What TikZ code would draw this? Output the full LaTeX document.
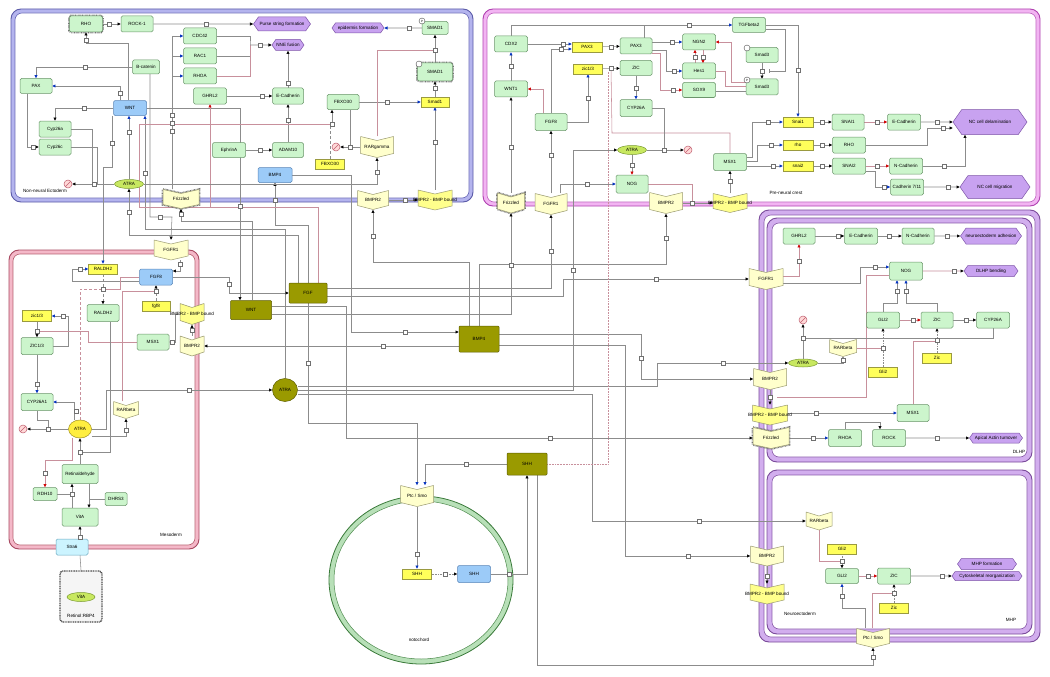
\documentclass[tikz,border=0pt]{standalone}
\usepackage{fontspec}
\setmainfont{Liberation Sans}
\usetikzlibrary{arrows.meta,shapes.geometric,shapes.symbols}
\definecolor{gfill}{HTML}{CCF5CC}
\definecolor{gdraw}{HTML}{6A956A}
\definecolor{yfill}{HTML}{FFFF5A}
\definecolor{ydraw}{HTML}{9A9A40}
\definecolor{bfill}{HTML}{9CCBF8}
\definecolor{bdraw}{HTML}{5A86B8}
\definecolor{ofill}{HTML}{9A9A00}
\definecolor{odraw}{HTML}{5E5E00}
\definecolor{hfill}{HTML}{C8A2F0}
\definecolor{hdraw}{HTML}{7E55A8}
\definecolor{cfill}{HTML}{FFFFCC}
\definecolor{cfilltwo}{HTML}{FFFF8C}
\definecolor{cdraw}{HTML}{9A9A70}
\definecolor{cyfill}{HTML}{CCF4FF}
\definecolor{cydraw}{HTML}{6AA8C0}
\definecolor{efill}{HTML}{C8E860}
\definecolor{edraw}{HTML}{7A9A30}
\definecolor{eyfill}{HTML}{FFEE40}
\definecolor{eydraw}{HTML}{A09020}
\definecolor{ln}{HTML}{8C8C8C}
\definecolor{pk}{HTML}{C8909C}
\definecolor{arrowblue}{HTML}{0030C0}
\definecolor{arrowred}{HTML}{D00000}
\definecolor{degf}{HTML}{FFD8D8}
\definecolor{degd}{HTML}{C06070}
\definecolor{eOut}{HTML}{5A5AA8}
\definecolor{eBand}{HTML}{B4B4EE}
\definecolor{eIn}{HTML}{6A6AB8}
\definecolor{pOut}{HTML}{B040B0}
\definecolor{pBand}{HTML}{F2B4F2}
\definecolor{pIn}{HTML}{C060C0}
\definecolor{mOut}{HTML}{A84860}
\definecolor{mBand}{HTML}{F4B8C8}
\definecolor{mIn}{HTML}{B86070}
\definecolor{nOut}{HTML}{7A4A9A}
\definecolor{nBand}{HTML}{D2AEEE}
\definecolor{nIn}{HTML}{8A5AAA}
\definecolor{notoOut}{HTML}{3A7A3A}
\definecolor{notoBand}{HTML}{B8E0B8}
\definecolor{notoIn}{HTML}{4A8A4A}
\pgfdeclarelayer{back}
\pgfdeclarelayer{edges}
\pgfsetlayers{back,edges,main}
\newcommand\tx[1]{\makebox[0pt]{#1}}
\newcommand\psq[2]{\filldraw[fill=white,draw=ln!80!black,line width=0.45pt] (#1-1.9,#2-1.9) rectangle (#1+1.9,#2+1.9);}
\newcommand\chev[7]{%
 \filldraw[fill=#6,draw=cdraw,line width=0.5pt,line join=round] (#2-#4/2,#3-#5/2) -- ++(#4/2,4) -- ++(#4/2,-4) -- ++(0,#5-4) -- ++(-#4/2,4) -- ++(-#4/2,-4) -- cycle;
 \node[base,minimum width=#4,minimum height=#5] (#1) at (#2,#3) {\tx{#7}};}
\newcommand\chevd[7]{%
 \filldraw[fill=#6,draw=cdraw,line width=0.5pt,line join=round,preaction={draw=black!55,line width=2.6pt,dash pattern=on 0.7pt off 0.7pt}] (#2-#4/2,#3-#5/2) -- ++(#4/2,4) -- ++(#4/2,-4) -- ++(0,#5-4) -- ++(-#4/2,4) -- ++(-#4/2,-4) -- cycle;
 \node[base,minimum width=#4,minimum height=#5] (#1) at (#2,#3) {\tx{#7}};}
\newcommand\compbox[8]{%
 \filldraw[draw=#5,fill=#6,line width=0.9pt,rounded corners=10pt] (#1,#2) rectangle (#3,#4);
 \filldraw[draw=#7,fill=white,line width=0.6pt,rounded corners=7pt] (#1+#8,#2+#8) rectangle (#3-#8,#4-#8);}
\tikzset{
 base/.style={font=\fontsize{4.6}{5.5}\selectfont, inner sep=0pt, line width=0.5pt},
 box/.style 2 args={base, rectangle, rounded corners=1.5pt, draw=gdraw, fill=gfill, minimum width=#1, minimum height=#2},
 ybox/.style 2 args={base, rectangle, draw=ydraw, fill=yfill, minimum width=#1, minimum height=#2},
 bbox/.style 2 args={base, rectangle, rounded corners=1.5pt, draw=bdraw, fill=bfill, minimum width=#1, minimum height=#2},
 obox/.style 2 args={base, rectangle, rounded corners=1pt, draw=odraw, fill=ofill, minimum width=#1, minimum height=#2},
 cybox/.style 2 args={base, rectangle, rounded corners=1.5pt, draw=cydraw, fill=cyfill, minimum width=#1, minimum height=#2},
 hex/.style 2 args={base, signal, signal to=west and east, signal pointer angle=110, draw=hdraw, fill=hfill, minimum width=#1, minimum height=#2},
 ell/.style 2 args={base, ellipse, draw=edraw, fill=efill, minimum width=#1, minimum height=#2},
 ellY/.style 2 args={base, ellipse, draw=eydraw, fill=eyfill, minimum width=#1, minimum height=#2},
 ellO/.style 2 args={base, ellipse, draw=odraw, fill=ofill, minimum width=#1, minimum height=#2},
 dotb/.style={preaction={draw=black!55, line width=2.6pt, dash pattern=on 0.7pt off 0.7pt}},
 degr/.style={circle, draw=degd, fill=degf, minimum size=8pt, inner sep=0pt, line width=0.5pt,
   path picture={\draw[degd,line width=0.5pt] (path picture bounding box.south west) -- (path picture bounding box.north east);}},
 pcirc/.style={circle, draw=black!70, fill=white, minimum size=6pt, inner sep=0pt, line width=0.4pt, font=\fontsize{3}{3}\selectfont},
 clab/.style={font=\fontsize{4.6}{5.5}\selectfont, inner sep=0pt},
 cn/.style={draw=ln, line width=0.55pt},
 pcn/.style={draw=pk, line width=0.55pt},
 ak/.style={-{Triangle[length=3.2pt,width=3pt,color=black]}},
 abl/.style={-{Triangle[length=3.2pt,width=3pt,color=arrowblue]}},
 ar/.style={-{Triangle[length=3.2pt,width=3pt,color=arrowred]}},
}
\begin{document}
\begin{tikzpicture}[x=1pt,y=-1pt]
\useasboundingbox (0,0) rectangle (1050,677);
\begin{pgfonlayer}{back}
\fill[white] (0,0) rectangle (1050,677);
\compbox{11}{9}{473}{202}{eOut}{eBand}{eIn}{4}
\compbox{483}{9}{1040}{206}{pOut}{pBand}{pIn}{4}
\compbox{9}{250}{199}{549}{mOut}{mBand}{mIn}{4}
\compbox{759}{210}{1040}{642}{nOut}{nBand}{nIn}{5}
\compbox{767}{218}{1032}{462}{nOut}{nBand}{nIn}{5}
\compbox{767}{470}{1032}{634}{nOut}{nBand}{nIn}{5}
\filldraw[draw=notoOut,fill=notoBand,line width=0.8pt] (421,580) ellipse [x radius=92,y radius=84];
\filldraw[draw=notoIn,fill=white,line width=0.5pt] (421,580) ellipse [x radius=87,y radius=79];
\end{pgfonlayer}
% ---------- compartment labels
\node[clab] (lE) at (45,191) {Non-neural Ectoderm};
\node[clab] (lP) at (786,193) {Pre-neural crest};
\node[clab] (lM) at (171,535) {Mesoderm};
\node[clab] (lN) at (800,614) {Neuroectoderm};
\node[clab] (lMHP) at (1011,620) {MHP};
\node[clab] (lDLHP) at (1019,452) {DLHP};
\node[clab] (lnoto) at (419,640) {notochord};
% ---------- ectoderm nodes
\node[box={33}{16},dotb] (rho1) at (86,24) {\tx{RHO}};
\node[box={32}{16}] (rock1) at (137,24) {\tx{ROCK-1}};
\node[hex={57}{14}] (purse) at (282,24) {\tx{Purse string formation}};
\node[box={33}{16}] (cdc42) at (200,36) {\tx{CDC42}};
\node[box={33}{16}] (rac1) at (200,56) {\tx{RAC1}};
\node[box={33}{16}] (rhoa) at (200,76) {\tx{RHOA}};
\node[hex={32}{11}] (nnefus) at (288,45) {\tx{NNE fusion}};
\node[box={27}{14}] (bcat) at (146,67) {\tx{B-catenin}};
\node[box={32}{15}] (pax) at (36,86) {\tx{PAX}};
\node[bbox={33}{15}] (wnt) at (130,108) {\tx{WNT}};
\node[box={33}{16}] (ghrl2) at (210,96) {\tx{GHRL2}};
\node[box={31}{16}] (ecad) at (288,96) {\tx{E-Cadherin}};
\node[box={32}{16}] (cyp26a) at (55,129) {\tx{Cyp26a}};
\node[box={32}{16}] (cyp26c) at (55,147) {\tx{Cyp26c}};
\node[box={33}{15}] (ephA) at (229,150) {\tx{EphrinA}};
\node[box={31}{15}] (adam10) at (288,150) {\tx{ADAM10}};
\node[ell={29}{9}] (atraE) at (129,184) {\tx{ATRA}};
\node[degr] (degE) at (68,184) {};
\chevd{frzE}{181}{199}{36}{19}{cfill}{Frizzled}
\node[bbox={34}{15}] (bmp4E) at (275,175) {\tx{BMP4}};
\node[hex={52}{10}] (epid) at (358,28) {\tx{epidermis formation}};
\node[box={26}{13}] (smad1p) at (435,28) {\tx{SMAD1}};
\node[box={35}{18},dotb] (smad1) at (435,72) {\tx{SMAD1}};
\node[ybox={28}{10}] (smad1g) at (435,102) {\tx{Smad1}};
\node[box={32}{15}] (fbxo30) at (343,102) {\tx{FBXO30}};
\node[degr] (degF) at (336,147) {};
\chev{rarg}{377}{147}{33}{21}{cfill}{RARgamma}
\node[ybox={29}{10}] (fbxo30g) at (330,164) {\tx{FBXO30}};
\chev{bmpr2E}{373}{200}{31}{19}{cfill}{BMPR2}
\chev{bmpbE}{435}{200}{34}{20}{cfilltwo}{BMPR2 - BMP bound}
\node[pcirc] (ph1) at (422,21) {P};
\node[pcirc] (ph2) at (419,64) {};
% ---------- pre-neural crest nodes
\chevd{frzP}{511}{203}{27}{20}{cfill}{Frizzled}
\node[box={33}{16}] (cdx2) at (511,44) {\tx{CDX2}};
\node[box={33}{16}] (wnt1) at (511,89) {\tx{WNT1}};
\node[ybox={30}{10}] (pax3g) at (587,47) {\tx{PAX3}};
\node[box={32}{16}] (pax3) at (636,46) {\tx{PAX3}};
\node[ybox={29}{10}] (zic13g) at (588,69) {\tx{zic1/3}};
\node[box={32}{15}] (zicP) at (636,68) {\tx{ZIC}};
\node[box={33}{16}] (ngn2) at (699,42) {\tx{NGN2}};
\node[box={33}{16}] (hes1) at (699,71) {\tx{Hes1}};
\node[box={33}{15}] (sox9) at (699,90) {\tx{SOX9}};
\node[box={33}{15}] (tgfb2) at (749,25) {\tx{TGFbeta2}};
\node[box={32}{15}] (smad3) at (762,55) {\tx{Smad3}};
\node[box={32}{16}] (smad3p) at (762,87) {\tx{Smad3}};
\node[pcirc] (ph3) at (747,48) {};
\node[pcirc] (ph4) at (747,80) {P};
\node[box={32}{17}] (fgf8P) at (551,122) {\tx{FGF8}};
\node[box={32}{17}] (cyp26aP) at (636,108) {\tx{CYP26A}};
\node[ell={29}{9}] (atraP) at (632,150) {\tx{ATRA}};
\node[degr] (degP) at (688,150) {};
\node[box={32}{18}] (nogP) at (632,184) {\tx{NOG}};
\node[box={33}{17}] (msx1P) at (730,162) {\tx{MSX1}};
\chev{fgfr1P}{551}{204}{32}{21}{cfill}{FGFR1}
\chev{bmpr2P}{666}{203}{33}{21}{cfill}{BMPR2}
\chev{bmpbP}{730}{203}{34}{19}{cfilltwo}{BMPR2 - BMP bound}
\node[ybox={30}{10}] (snai1g) at (798,122) {\tx{Snai1}};
\node[box={32}{16}] (snai1) at (848,122) {\tx{SNAI1}};
\node[box={33}{16}] (ecadP) at (904,122) {\tx{E-Cadherin}};
\node[hex={74}{25}] (ncdel) at (990,122) {\tx{NC cell delamination}};
\node[ybox={30}{10}] (rhog) at (798,145) {\tx{rho}};
\node[box={33}{16}] (rhoP) at (849,145) {\tx{RHO}};
\node[ybox={30}{10}] (snai2g) at (798,166) {\tx{snai2}};
\node[box={33}{16}] (snai2) at (849,166) {\tx{SNAI2}};
\node[box={33}{16}] (ncadP) at (906,166) {\tx{N-Cadherin}};
\node[box={33}{16}] (cad711) at (907,187) {\tx{Cadherin 7/11}};
\node[hex={70}{23}] (ncmig) at (995,187) {\tx{NC cell migration}};
% ---------- mesoderm nodes
\chev{fgfr1M}{171}{250}{34}{20}{cfill}{FGFR1}
\node[ybox={29}{10}] (raldh2g) at (103,269) {\tx{RALDH2}};
\node[bbox={33}{16}] (fgf8M) at (156,277) {\tx{FGF8}};
\node[box={32}{17}] (raldh2) at (103,313) {\tx{RALDH2}};
\node[ybox={29}{11}] (zic13gM) at (37,316) {\tx{zic1/3}};
\node[ybox={28}{10}] (fgf8g) at (156,306) {\tx{fgf8}};
\chev{bmpbM}{192}{314}{24}{21}{cfilltwo}{BMPR2 - BMP bound}
\node[box={32}{17}] (zic13) at (37,346) {\tx{ZIC1/3}};
\node[box={32}{16}] (msx1M) at (153,342) {\tx{MSX1}};
\chev{bmpr2M}{192}{346}{24}{20}{cfill}{BMPR2}
\node[box={32}{17}] (cyp26a1) at (37,402) {\tx{CYP26A1}};
\chev{rarbM}{126}{410}{25}{17}{cfill}{RARbeta}
\node[ellY={23}{18}] (atraM) at (80,429) {\tx{ATRA}};
\node[degr] (degM) at (23,429) {};
\node[box={36}{19}] (retin) at (80,474) {\tx{Retinaldehyde}};
\node[box={24}{13}] (rdh10) at (45,494) {\tx{RDH10}};
\node[box={22}{13}] (dhrs3) at (116,499) {\tx{DHRS3}};
\node[box={36}{18}] (vita) at (80,517) {\tx{VitA}};
\node[cybox={32}{16}] (stra6) at (72,547) {\tx{Stra6}};
\node[base,rectangle,rounded corners=3pt,draw=black!70,fill=black!4,line width=1.4pt,dash pattern=on 1pt off 0.7pt,minimum width=42,minimum height=51] (rbp4) at (81,596.5) {};
\node[ell={28}{9}] (vitaC) at (81,597) {\tx{VitA}};
\node[clab] (rbpl) at (81,616) {Retinol:RBP4};
% ---------- olive hub nodes
\node[obox={41}{19}] (wntO) at (251,310) {\tx{WNT}};
\node[obox={38}{20}] (fgfO) at (308,293) {\tx{FGF}};
\node[obox={40}{26}] (bmp4O) at (479,339) {\tx{BMP4}};
\node[ellO={25}{23}] (atraO) at (285,390) {\tx{ATRA}};
\node[obox={40}{22}] (shhO) at (527,464) {\tx{SHH}};
% ---------- notochord
\chev{ptcN}{417}{496}{33}{21}{cfill}{Ptc / Smo}
\node[ybox={29}{10}] (shhg) at (417,574) {\tx{SHH}};
\node[bbox={33}{17}] (shhb) at (474,574) {\tx{SHH}};
% ---------- DLHP
\chev{fgfr1D}{766}{279}{34}{21}{cfill}{FGFR1}
\chev{bmpr2D}{770}{379}{33}{21}{cfill}{BMPR2}
\chev{bmpbD}{770}{415}{35}{20}{cfilltwo}{BMPR2 - BMP bound}
\chevd{frzD}{771}{438}{36}{21}{cfill}{Frizzled}
\node[box={32}{16}] (ghrl2D) at (799,236) {\tx{GHRL2}};
\node[box={33}{16}] (ecadD) at (861,236) {\tx{E-Cadherin}};
\node[box={32}{16}] (ncadD) at (918,236) {\tx{N-Cadherin}};
\node[hex={61}{16}] (nadh) at (991,236) {\tx{neuroectoderm adhesion}};
\node[box={33}{18}] (nogD) at (906,271) {\tx{NOG}};
\node[hex={54}{11}] (dlhpb) at (991,271) {\tx{DLHP bending}};
\node[box={33}{16}] (gli2D) at (883,320) {\tx{GLI2}};
\node[box={32}{16}] (zicD) at (937,320) {\tx{ZIC}};
\node[box={33}{16}] (cyp26aD) at (993,320) {\tx{CYP26A}};
\node[degr] (degD) at (803,320) {};
\chev{rarbD}{843}{348}{27}{17}{cfill}{RARbeta}
\node[ell={29}{8}] (atraD) at (803,363) {\tx{ATRA}};
\node[ybox={29}{10}] (zicgD) at (937,358) {\tx{Zic}};
\node[ybox={29}{10}] (gli2gD) at (883,372) {\tx{Gli2}};
\node[box={32}{17}] (msx1D) at (913,413) {\tx{MSX1}};
\node[box={33}{17}] (rhoaD) at (845,438) {\tx{RHOA}};
\node[box={33}{17}] (rockD) at (889,438) {\tx{ROCK}};
\node[hex={53}{10}] (apical) at (996,438) {\tx{Apical Actin turnover}};
% ---------- MHP
\chev{bmpr2N}{767}{556}{33}{20}{cfill}{BMPR2}
\chev{bmpbN}{767}{594}{34}{20}{cfilltwo}{BMPR2 - BMP bound}
\chev{rarbN}{819}{521}{26}{18}{cfill}{RARbeta}
\node[ybox={29}{10}] (gli2gN) at (842,549) {\tx{Gli2}};
\node[box={33}{15}] (gli2N) at (842,576) {\tx{GLI2}};
\node[box={33}{16}] (zicN) at (894,576) {\tx{ZIC}};
\node[ybox={29}{10}] (zicgN) at (894,608) {\tx{Zic}};
\node[hex={59}{11}] (mhpf) at (987,564) {\tx{MHP formation}};
\node[hex={70}{9}] (cytor) at (987,576) {\tx{Cytoskeletal reorganization}};
\chev{ptcN2}{873}{638}{33}{19}{cfill}{Ptc / Smo}
% ================= connectors
\begin{pgfonlayer}{edges}
\coordinate (j1) at (250,45);
\coordinate (jf) at (332,124);
\coordinate (sj) at (769,71);
\coordinate (zj) at (611,68);
% ectoderm
\draw[cn,ak] (rho1) -- (rock1);
\draw[cn,ak] (rock1) -- (purse);
\draw[cn] (cdc42.east) -| (j1) |- (rac1.east);
\draw[pcn] (rhoa.east) -| (j1);
\draw[cn,ak] (j1) -- (nnefus);
\draw[cn,abl] (172,0 |- frzE.north) |- (cdc42.west);
\draw[cn,abl] (172,0 |- frzE.north) |- (rac1.west);
\draw[cn,abl] (172,0 |- frzE.north) |- (rhoa.west);
\draw[cn,ak] (128,0 |- wnt.north) |- (86,43) -- (rho1.south);
\draw[cn,abl] (bcat.west) -| (pax.north);
\draw[cn,abl] (120,0 |- wnt.north) |- (pax.east);
\draw[cn,ak] (wnt.west) -| (cyp26a.north);
\draw[cn,ak] (27,0 |- pax.south) |- (cyp26c.west);
\draw[cn] (cyp26a.east) -| (92,184);
\draw[cn] (cyp26c.east) -| (97,184);
\draw[cn,ak] (atraE) -- (degE);
\draw[cn,abl] (atraE) -- (129,0 |- wnt.south);
\draw[cn,abl] (112,0 |- wnt.south) -- (112,167) -| (raldh2g.north);
\draw[cn,ak] (wnt.east) -| (240,0 |- wntO.north);
\draw[cn,abl] (atraO.north) |- (145,229) -- (145,0 |- wnt.south);
\draw[cn,ak] (298,0 |- fgfO.north) |- (129,235) -- (atraE.south);
\draw[cn,ak] (308,0 |- fgfO.north) |- (275,225) -- (bmp4E.south);
\draw[cn,ak] (150,0 |- bcat.south) |- (172,217) -- (fgfr1M.north);
\draw[cn,ak] (252,0 |- wntO.north) |- (181,221) -- (frzE.south);
\draw[cn,ak] (ghrl2) -- (ecad);
\draw[cn,ak] (ecad) -- (nnefus);
\draw[cn,ak] (adam10) -- (ecad);
\draw[cn,ak] (ephA) -- (adam10);
\draw[pcn] (318,0 |- fgfO.north) |- (139,207) |- (jf);
\draw[pcn,ar] (210,207) -- (ghrl2.south);
\draw[cn,densely dashed] (fbxo30g.north) -- (330,124) -- (jf);
\draw[cn,ak] (jf) -- (332,0 |- fbxo30.south);
\draw[cn,abl] (fbxo30) -- (smad1g);
\draw[cn] (350,0 |- fbxo30.south) -- (350,147);
\draw[cn,ak] (rarg.west) -- (degF);
\draw[cn,ak] (atraE.east) -| (rarg.south);
\draw[pcn] (rarg.north) |- (435,50);
\draw[cn,ak] (bmpr2E) -- (bmpbE);
\draw[cn,abl] (bmpbE) -- (smad1g);
\draw[cn,ak] (smad1g) -- (smad1);
\draw[cn,ak] (smad1) -- (smad1p);
\draw[cn,abl] (smad1p) -- (epid);
\draw[cn,ak] (bmp4E.east) -| (351,332) -- (bmp4O.west |- 351,332);
\draw[cn,ak] (469,0 |- bmp4O.north) |- (373,262) -- (bmpr2E.south);
% pre-neural crest
\draw[cn,ak] (frzP) -- (wnt1);
\draw[cn,abl] (wnt1) -- (cdx2);
\draw[cn,abl] (cdx2.north) |- (tgfb2.west);
\draw[cn] (644,0 |- pax3.north) -- (644,25);
\draw[cn,abl] (cdx2.east) -- (pax3g.west |- cdx2.east);
\draw[cn,abl] (551,0 |- fgf8P.north) |- (pax3g.west |- 0,49);
\draw[cn,ak] (pax3g) -- (pax3);
\draw[cn,ak] (zic13g) -- (zicP);
\draw[cn,abl] (fgf8P.east) -| (zic13g.south);
\draw[pcn,ar] (543,0 |- fgf8P.north) |- (wnt1.east);
\draw[cn,abl] (pax3.east |- ngn2.west) -- (ngn2.west);
\draw[cn,abl] (pax3.east |- 0,50) -- (666,50) |- (hes1.west);
\draw[pcn,ar] (pax3.east |- 0,53) -- (660,53) |- (sox9.west);
\draw[pcn,ar] (hes1.north) ++(-4,0) -- ++(0,-13);
\draw[pcn,ar] (ngn2.south) ++(4,0) -- ++(0,13);
\draw[cn,ak] (smad3) -- (smad3p);
\draw[cn,-{Bar[width=4pt]}] (tgfb2.east |- 0,29) -- (785,29) |- (sj);
\draw[cn,abl] (tgfb2.east) -| (snai1g.north);
\draw[pcn,ar] (smad3p.west |- 0,82) -- (731,82) |- (ngn2.east);
\draw[pcn] (smad3p.west |- 0,86) -- (725,86) |- (hes1.east);
\draw[cn] (smad3p.west |- 0,91) -- (sox9.east |- 0,91);
\draw[cn,abl] (msx1P.east |- 0,157) -- (752,157) |- (snai1g.west);
\draw[cn,abl] (msx1P.east |- 0,161) -- (757,161) |- (rhog.west);
\draw[cn,abl] (msx1P.east |- 0,166) -- (snai2g.west);
\draw[cn,ak] (snai1g) -- (snai1);
\draw[cn,ak] (rhog) -- (rhoP);
\draw[cn,ak] (snai2g) -- (snai2);
\draw[pcn,ar] (snai1) -- (ecadP);
\draw[cn,ak] (ecadP) -- (ncdel);
\draw[cn,ak] (rhoP.east) -| (927,128) -- (ncdel.west |- 0,128);
\draw[pcn,ar] (snai2) -- (ncadP);
\draw[cn,abl] (snai2.east |- 0,171) -- (875,171) |- (cad711.west);
\draw[cn,ak] (ncadP.east) -| (965,0 |- ncdel.south);
\draw[cn,ak] (cad711) -- (ncmig);
\draw[pcn] (msx1P.north) |- (612,133) -- (zj);
\draw[cn,ak] (bmpbP) -- (msx1P);
\draw[cn,ak] (bmpr2P) -- (bmpbP);
\draw[pcn] (nogP.east) -| (692,203);
\draw[cn,ak] (fgfr1P) -- (fgf8P);
\draw[cn,abl] (560,0 |- fgfr1P.north) |- (nogP.west);
\draw[cn,ar] (atraP) -- (nogP);
\draw[cn,abl] (zicP) -- (cyp26aP);
\draw[cn] (cyp26aP.east) -| (664,150);
\draw[cn,ak] (atraP) -- (degP);
% hub
\draw[cn,ak] (atraO.east) -| (573,150) -- (atraP.west);
\draw[cn,ak] (atraO.east |- 0,386) -| (657,363) -- (atraD.west);
\draw[cn,ak] (atraO.east |- 0,394) -| (592,521) -- (rarbN.west);
\draw[cn,ak] (atraM.east) -- (106,429) |- (atraO.west);
\draw[cn,ak] (fgfO.east |- 0,288) -| (fgfr1P.south);
\draw[cn,ak] (fgfO.east |- 0,296) -| (563,279) -- (fgfr1D.west);
\draw[cn,abl] (fgfO.south) |- (417,423) -- (ptcN.north);
\draw[cn,ak] (fgf8M.east) -| (229,293) -- (fgfO.west |- 0,293);
\draw[cn,ak] (wntO.east |- 0,314) -| (frzP.south);
\draw[cn,ak] (wntO.east |- 0,306) -| (346,438) -- (frzD.west);
\draw[cn,ak] (479,0 |- bmp4O.north) |- (666,264) -- (bmpr2P.south);
\draw[cn,ak] (bmp4O.east |- 0,334) -| (641,379) -- (bmpr2D.west);
\draw[cn,ak] (bmp4O.east |- 0,345) -| (625,556) -- (bmpr2N.west);
\draw[cn,ak] (bmp4O.west |- 0,346) -- (bmpr2M.east);
\draw[cn,abl] (shhO.west) -| (425,0 |- ptcN.north);
\draw[cn,ak] (537,0 |- shhO.south) |- (873,665) -- (ptcN2.south);
\draw[pcn,densely dotted] (shhO.east) -| (608,72);
\draw[cn,abl] (ptcN) -- (shhg);
\draw[cn,densely dotted,ak] (shhg) -- (shhb);
\draw[cn,ak] (shhb.east) -| (shhO.south);
% mesoderm
\draw[cn,ak] (180,0 |- fgfr1M.south) |- (fgf8M.east |- 0,271);
\draw[cn,abl] (fgf8M.west |- 0,281) -| (72,269) -- (raldh2g.west);
\draw[cn,abl] (zic13.east) -| (68,316) -- (zic13gM.east);
\draw[cn,densely dashed,ak] (raldh2g) -- (raldh2);
\draw[pcn,densely dashed] (atraM.north) |- (103,289);
\draw[pcn] (fgf8M.west) -| (120,289) -- (103,289);
\draw[cn,ak] (zic13gM) -- (zic13);
\draw[pcn] (msx1M.west) -| (88,331) -- (37,331);
\draw[cn,abl] (zic13) -- (cyp26a1);
\draw[cn] (cyp26a1.south) |- (48,420) -- (48,429);
\draw[cn,ak] (atraM.west) -- (degM);
\draw[cn,abl] (74,0 |- atraM.north) |- (cyp26a1.east);
\draw[cn,ak] (atraM.east |- 0,436) -| (rarbM.south);
\draw[pcn] (122,0 |- rarbM.north) |- (156,291);
\draw[cn,densely dashed] (fgf8g) -- (156,291);
\draw[cn,ak] (156,291) -- (fgf8M.south);
\draw[cn,ak] (bmpbM.west) -- (175,314) |- (msx1M.east);
\draw[cn,ak] (bmpr2M) -- (bmpbM);
\draw[cn,ak] (retin) -- (atraM);
\draw[cn] (110,0 |- raldh2.south) |- (80,452);
\draw[cn,ak] (72,0 |- vita.north) -- (72,0 |- retin.south);
\draw[cn] (rdh10) -- (72,494);
\draw[cn,ak] (89,0 |- retin.south) -- (89,0 |- vita.north);
\draw[cn] (dhrs3) -- (89,499);
\draw[pcn,ar] (72,0 |- atraM.south) |- (45,460) -- (rdh10.north);
\draw[cn,ak] (80,0 |- stra6.north) -- (vita.south);
\draw[cn] (rbp4.north) -- (80,0 |- stra6.south);
% DLHP
\draw[pcn,ar] (fgfr1D.east |- 0,276) -| (ghrl2D.south);
\draw[cn,abl] (fgfr1D.east |- 0,283) -| (860,267) -- (nogD.west |- 0,267);
\draw[pcn] (nogD.west |- 0,275) -- (866,275) |- (777,397);
\draw[cn,ak] (ghrl2D) -- (ecadD);
\draw[cn,ak] (ecadD) -- (ncadD);
\draw[cn,ak] (ncadD) -- (nadh);
\draw[pcn,ak] (nogD) -- (dlhpb);
\draw[cn,abl] (gli2D.north) |- (897,303) -- (897,0 |- nogD.south);
\draw[cn,abl] (zicD.north) |- (906,303) -- (906,0 |- nogD.south);
\draw[pcn,ar] (gli2D) -- (zicD);
\draw[cn,ak] (zicD) -- (cyp26aD);
\draw[cn] (cyp26aD.south) |- (803,338);
\draw[cn,ak] (atraD) -- (degD);
\draw[cn,ak] (atraD.east) -| (rarbD.south);
\draw[pcn] (rarbD.east) -- (883,348);
\draw[cn,densely dotted,ak] (gli2gD) -- (gli2D);
\draw[cn,densely dotted,ak] (zicgD) -- (zicD);
\draw[pcn] (msx1D.north) |- (937,341);
\draw[cn,abl] (bmpbD.east |- msx1D.west) -- (msx1D.west);
\draw[cn,ak] (bmpr2D) -- (bmpbD);
\draw[cn,abl] (frzD) -- (rhoaD);
\draw[cn,ak] (rhoaD.north) |- (880,422) -- (880,0 |- rockD.north);
\draw[cn,ak] (rockD) -- (apical);
% MHP
\draw[cn,ak] (bmpr2N) -- (bmpbN);
\draw[pcn] (rarbN.south) |- (842,561);
\draw[cn,densely dotted,ak] (gli2gN) -- (gli2N);
\draw[pcn,ar] (gli2N) -- (zicN);
\draw[cn,ak] (zicN) -- (cytor);
\draw[cn,densely dotted,ak] (zicgN) -- (zicN);
\draw[pcn] (872,0 |- ptcN2.north) |- (894,593);
\draw[cn,abl] (865,0 |- ptcN2.north) |- (842,608) -- (gli2N.south);
\end{pgfonlayer}
% ================= process squares
\psq{109}{24}\psq{206}{24}\psq{260}{45}\psq{172}{115}\psq{172}{123}\psq{172}{131}
\psq{86}{40}\psq{85}{67}\psq{120}{93}\psq{84}{108}\psq{33}{147}\psq{94}{184}
\psq{129}{132}\psq{112}{143}\psq{160}{217}\psq{262}{96}\psq{288}{83}\psq{288}{120}
\psq{260}{150}\psq{332}{124}\psq{387}{102}\psq{350}{147}\psq{377}{172}\psq{405}{200}
\psq{435}{142}\psq{435}{88}\psq{435}{50}\psq{409}{28}\psq{405}{332}\psq{373}{236}
\psq{145}{173}\psq{129}{212}\psq{275}{200}\psq{240}{206}\psq{181}{214}
\psq{511}{147}\psq{511}{66}\psq{689}{25}\psq{563}{44}\psq{561}{49}\psq{611}{47}
\psq{611}{68}\psq{588}{98}\psq{672}{42}\psq{674}{71}\psq{673}{90}\psq{695}{57}\psq{703}{57}
\psq{762}{71}\psq{798}{70}\psq{768}{122}\psq{771}{145}\psq{773}{166}\psq{822}{122}
\psq{822}{145}\psq{822}{166}\psq{877}{122}\psq{937}{122}\psq{943}{128}\psq{877}{166}
\psq{884}{187}\psq{944}{166}\psq{948}{187}\psq{730}{181}\psq{692}{203}\psq{551}{155}
\psq{587}{184}\psq{632}{165}\psq{636}{88}\psq{664}{150}
\psq{573}{270}\psq{723}{363}\psq{699}{521}\psq{189}{390}\psq{551}{251}
\psq{656}{279}\psq{308}{363}\psq{229}{284}\psq{511}{265}\psq{550}{438}\psq{666}{238}
\psq{641}{358}\psq{688}{556}\psq{383}{346}\psq{466}{464}\psq{873}{657}\psq{417}{554}
\psq{445}{574}\psq{509}{574}
\psq{180}{264}\psq{80}{269}\psq{63}{316}\psq{103}{289}\psq{37}{331}\psq{37}{384}
\psq{48}{429}\psq{76}{411}\psq{126}{430}\psq{156}{291}\psq{172}{342}\psq{192}{330}
\psq{80}{452}\psq{72}{494}\psq{45}{473}\psq{80}{537}
\psq{799}{261}\psq{875}{267}\psq{838}{236}\psq{889}{236}\psq{947}{236}\psq{954}{271}
\psq{897}{291}\psq{906}{291}\psq{913}{320}\psq{966}{320}\psq{803}{338}\psq{843}{360}
\psq{883}{348}\psq{937}{340}\psq{816}{413}\psq{770}{397}\psq{813}{438}\psq{937}{438}
\psq{767}{576}\psq{842}{561}\psq{868}{576}\psq{942}{576}\psq{894}{593}\psq{842}{596}
\end{tikzpicture}
\end{document}
